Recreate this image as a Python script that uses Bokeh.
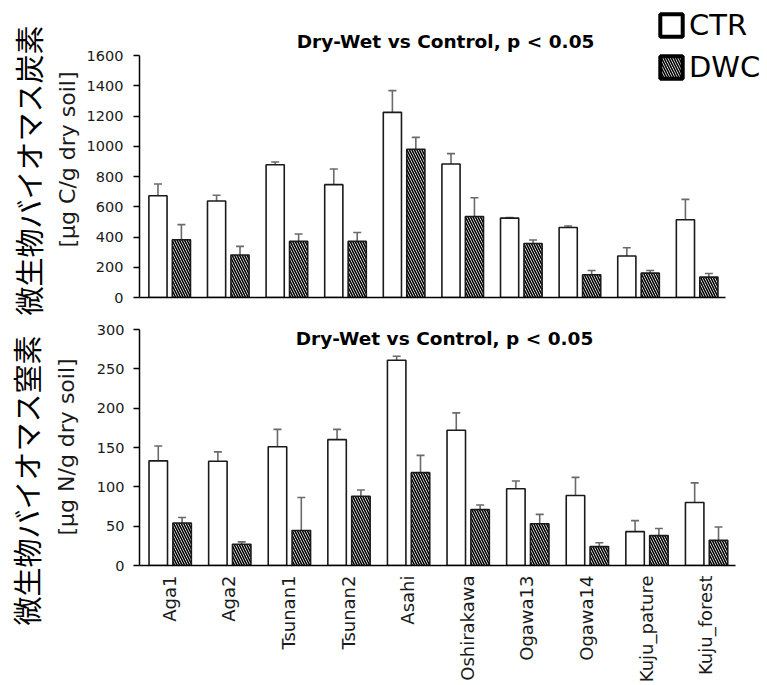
import math
from bokeh.plotting import figure
from bokeh.layouts import column
from bokeh.models import (ColumnDataSource, Range1d, FixedTicker, Whisker,
                          TeeHead, Legend, LegendItem, Title, Label)
from bokeh.transform import dodge
from bokeh.embed import file_html
from bokeh.resources import INLINE

# ---------------- data ----------------
sites = ["Aga1", "Aga2", "Tsunan1", "Tsunan2", "Asahi", "Oshirakawa",
         "Ogawa13", "Ogawa14", "Kuju_pature", "Kuju_forest"]

mbc_ctr = [673, 638, 878, 746, 1224, 883, 525, 463, 274, 514]
mbc_ctr_err = [77, 38, 18, 104, 144, 68, 3, 10, 55, 135]
mbc_dwc = [382, 281, 371, 371, 980, 536, 357, 150, 161, 135]
mbc_dwc_err = [100, 57, 49, 59, 79, 124, 23, 29, 18, 24]

mbn_ctr = [133, 132.5, 151, 160, 261, 172, 97.5, 89, 43, 80]
mbn_ctr_err = [19, 12, 22, 13, 5, 22, 10, 23, 14, 25]
mbn_dwc = [54, 27, 44.5, 88, 118, 71, 53, 24, 38, 32]
mbn_dwc_err = [7, 3, 42, 8, 22, 6, 12, 5, 9, 17]

c_ticks = [0, 200, 400, 600, 800, 1000, 1200, 1400, 1600]
n_ticks = [0, 50, 100, 150, 200, 250, 300]

title_text = "Dry-Wet vs Control, p < 0.05"
c_jp = "微生物バイオマス炭素"
n_jp = "微生物バイオマス窒素"
c_unit = "[µg C/g dry soil]"
n_unit = "[µg N/g dry soil]"
series_names = ["CTR", "DWC"]

# ---------------- style ----------------
FONT = "DejaVu Sans"
JPFONT = "Noto Sans CJK JP"
BAR_LINE = "#1a1a1a"
ERR = "#6a6a6a"
TXT = "#1a1a1a"
OFF_C, OFF_D, BW = -0.185, 0.215, 0.31
HATCH = dict(hatch_pattern="left_diagonal_line", hatch_color="black",
             hatch_scale=5, hatch_weight=1.6)
N = len(sites)
positions = [i + 0.5 for i in range(N)]


def make_src(ctr, cerr, dwc, derr):
    return ColumnDataSource(dict(
        site=sites, pos=positions, ctr=ctr, dwc=dwc,
        ctr_hi=[v + e for v, e in zip(ctr, cerr)], ctr_lo=[v - e for v, e in zip(ctr, cerr)],
        dwc_hi=[v + e for v, e in zip(dwc, derr)], dwc_lo=[v - e for v, e in zip(dwc, derr)],
    ))


def style_yaxis(ya, ticks, tick_standoff, bounds):
    ya.ticker = FixedTicker(ticks=ticks)
    ya.bounds = bounds
    ya.minor_tick_line_color = None
    ya.major_tick_in = 0
    ya.major_tick_out = 6
    ya.major_label_standoff = tick_standoff
    ya.major_label_text_font = FONT
    ya.major_label_text_font_size = "14.5px"
    ya.major_label_text_color = TXT
    ya.axis_line_color = "black"
    ya.axis_line_width = 1.5
    ya.major_tick_line_color = "black"
    ya.major_tick_line_width = 1.5


def style_xaxis(xa, ticks):
    xa.ticker = FixedTicker(ticks=ticks)
    xa.bounds = (0, N)
    xa.axis_line_color = "black"
    xa.axis_line_width = 1.5
    xa.major_tick_line_color = None
    xa.minor_tick_line_color = None


def add_bars(p, src):
    p.vbar(x=dodge("pos", OFF_C), top="ctr", width=BW, source=src,
           fill_color="white", line_color=BAR_LINE, line_width=1.6)
    p.vbar(x=dodge("pos", OFF_D), top="dwc", width=BW, source=src,
           fill_color="white", line_color=BAR_LINE, line_width=1.6, **HATCH)
    for off, hi, lo in [(OFF_C, "ctr_hi", "ctr_lo"), (OFF_D, "dwc_hi", "dwc_lo")]:
        p.add_layout(Whisker(base=dodge("pos", off), upper=hi, lower=lo, source=src,
                             line_color=ERR, line_width=1.6,
                             upper_head=TeeHead(size=8, line_color=ERR, line_width=1.6),
                             lower_head=TeeHead(size=8, line_color=ERR, line_width=1.6)))


def add_side_titles(p, jp, unit, jp_off, unit_off, unit_standoff, jp_standoff):
    p.add_layout(Title(text=unit, align="left", offset=unit_off, standoff=unit_standoff,
                       text_font=FONT, text_font_size="22px", text_font_style="normal",
                       text_color=TXT), "left")
    p.add_layout(Title(text=jp, align="left", offset=jp_off, standoff=jp_standoff,
                       text_font=JPFONT, text_font_size="29px", text_font_style="normal",
                       text_color="black"), "left")


def base_fig(xr, yr, height, mb_left, mb_top, mb_bottom):
    p = figure(x_range=xr, y_range=yr, width=767, height=height,
               output_backend="svg", toolbar_location=None,
               min_border_left=mb_left, min_border_right=0,
               min_border_top=mb_top, min_border_bottom=mb_bottom)
    p.outline_line_color = None
    p.grid.visible = False
    return p


src_c = make_src(mbc_ctr, mbc_ctr_err, mbc_dwc, mbc_dwc_err)
src_n = make_src(mbn_ctr, mbn_ctr_err, mbn_dwc, mbn_dwc_err)

# ---------------- top: carbon ----------------
C_CAT = 58.7            # px per site
C_PX = 242 / 1600.0     # px per unit
p1 = base_fig(Range1d(0, 629 / C_CAT), Range1d(0, 295 / C_PX), 320, 138, 2, 23)
add_bars(p1, src_c)
style_yaxis(p1.yaxis[0], c_ticks, 10, (0, 1600))
style_xaxis(p1.xaxis[0], [])
add_side_titles(p1, c_jp, c_unit, jp_off=-18, unit_off=50, unit_standoff=8, jp_standoff=0)
p1.add_layout(Label(x=N / 2, y=1600 + 14 / C_PX, x_offset=13, text=title_text,
                    text_font=FONT, text_font_style="bold", text_font_size="18.5px",
                    text_color="black", text_align="center", text_baseline="middle"))

# legend: renderers share the data but are not drawn in the plot itself
leg_c = p1.vbar(x="pos", top="ctr", width=0.3, source=src_c,
                fill_color="white", line_color="black", line_width=4)
leg_d = p1.vbar(x="pos", top="dwc", width=0.3, source=src_c,
                fill_color="white", line_color="black", line_width=4, **HATCH)
leg_c.visible = False
leg_d.visible = False
leg = Legend(items=[LegendItem(label=series_names[0], renderers=[leg_c]),
                    LegendItem(label=series_names[1], renderers=[leg_d])],
             location=(518, 213), orientation="vertical",
             glyph_width=28, glyph_height=28, label_standoff=4, spacing=8,
             padding=0, margin=0, border_line_alpha=0, background_fill_alpha=0,
             label_text_font=FONT, label_text_font_size="29px", label_text_color="black")
p1.add_layout(leg, "center")

# ---------------- bottom: nitrogen ----------------
N_CAT = 59.6
p2 = base_fig(Range1d(0, 628 / N_CAT), Range1d(0, 300), 365, 139, 9, 116)
add_bars(p2, src_n)
style_yaxis(p2.yaxis[0], n_ticks, 9, (0, 300))
xa2 = p2.xaxis[0]
style_xaxis(xa2, positions)
xa2.major_label_overrides = {pos: name for pos, name in zip(positions, sites)}
xa2.major_label_orientation = math.pi / 2
xa2.major_label_text_font = FONT
xa2.major_label_text_font_size = "18px"
xa2.major_label_text_color = TXT
xa2.major_label_standoff = 4
add_side_titles(p2, n_jp, n_unit, jp_off=-60, unit_off=30, unit_standoff=30, jp_standoff=-21)
p2.add_layout(Label(x=N / 2, y=289, x_offset=7, text=title_text, text_font=FONT,
                    text_font_style="bold", text_font_size="18.5px", text_color="black",
                    text_align="center", text_baseline="middle"))

layout = column(p1, p2, spacing=0)
open("out.html", "w").write(file_html(layout, INLINE))
